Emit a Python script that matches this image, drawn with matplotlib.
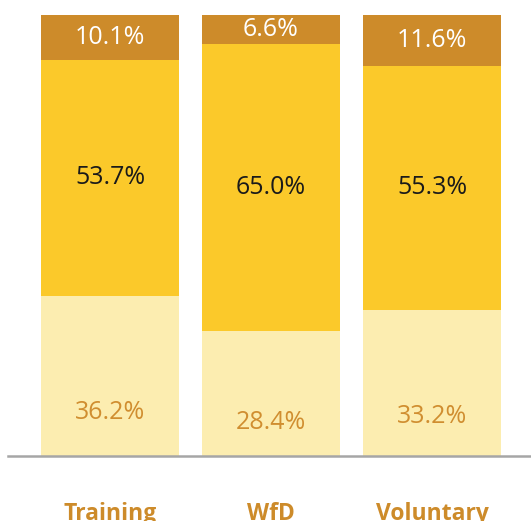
import matplotlib.pyplot as plt
import numpy as np

categories = ["Training", "WfD", "Voluntary"]
bottom_vals = [36.2, 28.4, 33.2]
middle_vals = [53.7, 65.0, 55.3]
top_vals = [10.1, 6.6, 11.6]

c_top = "#CD8B2A"
c_mid = "#FBC92A"
c_bot = "#FCEDB0"

plt.rcParams["font.family"] = ["Open Sans", "DejaVu Sans"]

fig = plt.figure(figsize=(5.31, 5.21), dpi=100)
ax = fig.add_axes([8 / 531, 65 / 521, 1 - 8 / 531, 456 / 521])

x = np.arange(len(categories))
w = 0.857
bot = np.array(bottom_vals)
mid = np.array(middle_vals)
top = np.array(top_vals)

ax.bar(x, bot, width=w, color=c_bot)
ax.bar(x, mid, width=w, bottom=bot, color=c_mid)
ax.bar(x, top, width=w, bottom=bot + mid, color=c_top)

fs = 18
for i in range(len(x)):
    ax.text(x[i], bot[i] * 0.27, f"{bot[i]:.1f}%", ha="center", va="center",
            fontsize=fs, color="#D08E30")
    ax.text(x[i], bot[i] + mid[i] / 2, f"{mid[i]:.1f}%", ha="center", va="center",
            fontsize=fs, color="#1a1a1a")
    ax.text(x[i], bot[i] + mid[i] + top[i] / 2, f"{top[i]:.1f}%", ha="center",
            va="center", fontsize=fs, color="white")

ax.set_xlim(-0.634, 2.615)
ax.set_ylim(0, 100 * 456 / 441)

for s in ["top", "right", "left"]:
    ax.spines[s].set_visible(False)
ax.spines["bottom"].set_color("#A6A6A6")
ax.spines["bottom"].set_linewidth(1.8)

ax.set_yticks([])
ax.set_xticks(x)
ax.set_xticklabels(categories, fontsize=16.5, fontweight="bold", color=c_top)
ax.tick_params(axis="x", length=0, pad=33)

fig.savefig("out.png", dpi=100)
